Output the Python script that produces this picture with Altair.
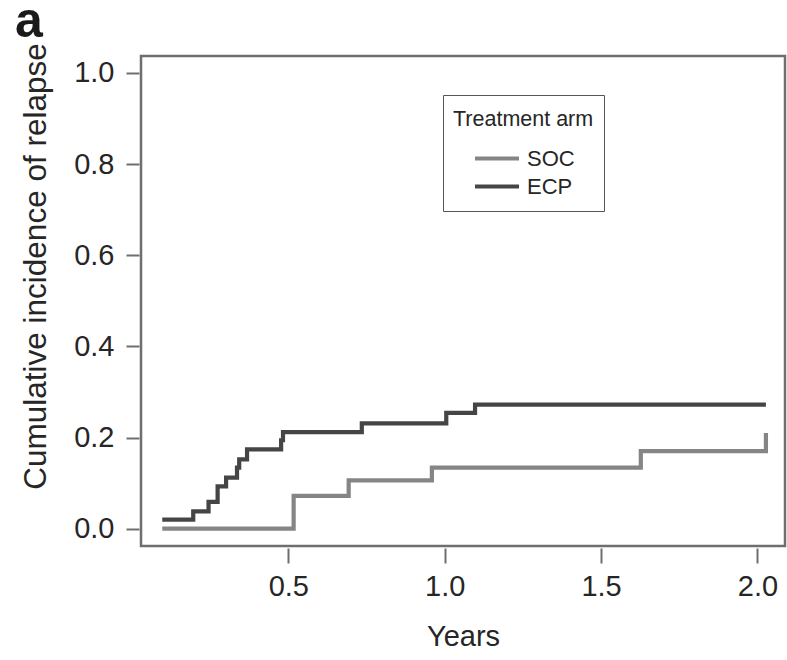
import altair as alt
import pandas as pd

# Cumulative incidence of relapse (step functions), by treatment arm
ecp_years = [0.097, 0.196, 0.245, 0.274, 0.301, 0.336, 0.343, 0.368, 0.477, 0.483, 0.735, 1.005, 1.097, 2.027]
ecp_cif = [0.020, 0.038, 0.059, 0.093, 0.112, 0.134, 0.152, 0.174, 0.194, 0.212, 0.231, 0.254, 0.272, 0.272]

soc_years = [0.097, 0.517, 0.693, 0.959, 1.627, 2.027]
soc_cif = [0.000, 0.072, 0.106, 0.134, 0.170, 0.210]

arms = ["SOC", "ECP"]
arm_colors = ["#858585", "#454545"]

x_ticks = [0.5, 1.0, 1.5, 2.0]
y_ticks = [0.0, 0.2, 0.4, 0.6, 0.8, 1.0]

panel_label = ["a"]

df = pd.concat([
    pd.DataFrame({"years": soc_years, "cif": soc_cif, "arm": "SOC"}),
    pd.DataFrame({"years": ecp_years, "cif": ecp_cif, "arm": "ECP"}),
], ignore_index=True)

FONT = "Liberation Sans"
TEXT = "#262626"

curves = alt.Chart(df).mark_line(interpolate="step-after", strokeWidth=4.2).encode(
    x=alt.X(
        "years:Q",
        scale=alt.Scale(domain=[0.029, 2.088], nice=False, zero=False),
        axis=alt.Axis(
            values=x_ticks, format=".1f", title="Years", grid=False, domain=False,
            tickSize=15, tickWidth=2, tickColor="#6e6e6e", offset=2,
            labelFontSize=29, labelFont=FONT, labelColor=TEXT, labelPadding=9,
            titleFontSize=29, titleFont=FONT, titleColor=TEXT, titleFontWeight="normal",
            titlePadding=21,
        ),
    ),
    y=alt.Y(
        "cif:Q",
        scale=alt.Scale(domain=[-0.038, 1.037], nice=False, zero=False),
        axis=alt.Axis(
            values=y_ticks, format=".1f", title="Cumulative incidence of relapse",
            grid=False, domain=False,
            tickSize=13, tickWidth=2, tickColor="#6e6e6e", offset=2,
            labelFontSize=29, labelFont=FONT, labelColor=TEXT, labelPadding=12,
            titleFontSize=31.5, titleFont=FONT, titleColor=TEXT, titleFontWeight="normal",
            titlePadding=21, titleY=210,
        ),
    ),
    color=alt.Color(
        "arm:N",
        scale=alt.Scale(domain=arms, range=arm_colors),
        legend=alt.Legend(
            title="Treatment arm", orient="none", legendX=302, legendY=39,
            symbolType="stroke", symbolSize=1936, symbolStrokeWidth=4,
            symbolOffset=20, labelOffset=6, rowPadding=0, clipHeight=28,
            labelFontSize=22, labelFont=FONT, labelColor=TEXT,
            titleFontSize=21.5, titleFont=FONT, titleColor=TEXT, titleFontWeight="normal",
            titleBaseline="line-top", titleLineHeight=29,
            titlePadding=18, padding=10, strokeColor="#555555", fillColor="white",
        ),
    ),
)

# bold panel letter in the top-left corner
panel = alt.Chart(pd.DataFrame({"panel": panel_label})).mark_text(
    font=FONT, fontSize=50, fontWeight="bold", color="#1a1a1a",
    align="left", baseline="alphabetic",
).encode(text="panel:N", x=alt.value(-126), y=alt.value(-19))

chart = alt.layer(curves, panel).properties(
    width=644,
    height=490,
    background="white",
    autosize=alt.AutoSizeParams(type="none"),
    padding={"left": 141, "top": 56, "right": 2, "bottom": 114},
).configure_view(
    stroke="#6e6e6e", strokeWidth=2.5,
)

chart.save("out.html", embed_options={"renderer": "svg", "actions": False})
